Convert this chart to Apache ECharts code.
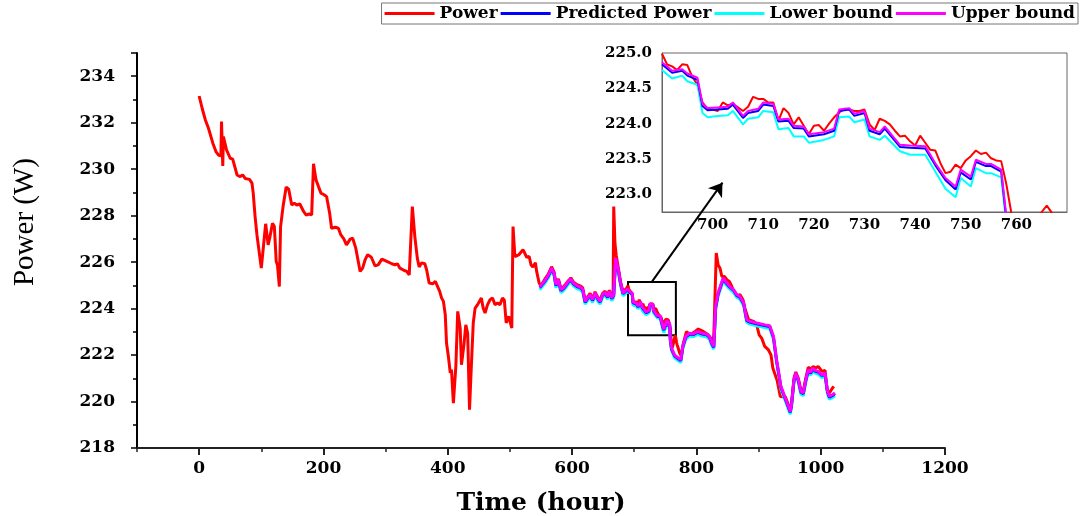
<!DOCTYPE html>
<html>
<head>
<meta charset="utf-8">
<script src="https://cdn.jsdelivr.net/npm/echarts@6/dist/echarts.min.js"></script>
<style>
  html, body { margin: 0; padding: 0; background: #fff; }
  #chart { width: 1080px; height: 516px; }
</style>
</head>
<body>
<div id="chart"></div>
<script>
// measured power, hour / W
const powerBefore = [
  [0, 233.15], [5, 232.60], [10, 232.12], [15, 231.76], [22, 231.12], [27, 230.76], [31, 230.61], [35, 230.57], [36, 232.05], [38, 230.14],
  [39, 231.40], [44, 230.83], [50, 230.47], [54, 230.43], [61, 229.75], [66, 229.68], [70, 229.75], [74, 229.60], [81, 229.56], [85, 229.40],
  [87, 228.97], [90, 227.96], [93, 227.17], [96, 227.10], [100, 225.74], [102, 225.70], [107, 227.65], [111, 226.74], [114, 227.10], [118, 227.67],
  [121, 227.53], [124, 226.03], [126, 225.88], [129, 224.95], [131, 227.53], [135, 228.39], [140, 229.23], [144, 229.14], [149, 228.46], [153, 228.54],
  [157, 228.46], [162, 228.50], [168, 228.18], [172, 228.03], [177, 228.07], [181, 228.03], [184, 230.23], [188, 229.54], [192, 229.25], [196, 228.97],
  [201, 228.90], [205, 228.82], [210, 228.10], [213, 227.46], [219, 227.50], [224, 227.46], [228, 227.17], [233, 226.99], [237, 226.74], [243, 226.99],
  [247, 227.03], [252, 226.60], [259, 225.60], [263, 225.74], [267, 226.10], [271, 226.32], [277, 226.21], [283, 225.84], [288, 225.88], [294, 226.13],
  [302, 226.03], [310, 225.93], [315, 225.88], [319, 225.93], [323, 225.74], [330, 225.64], [334, 225.60], [338, 225.45], [341, 225.50], [343, 228.39],
  [347, 227.10], [351, 226.17], [354, 225.79], [358, 225.97], [363, 225.93], [366, 225.67], [370, 225.10], [376, 225.07], [380, 225.17], [383, 225.10],
  [387, 224.74], [390, 224.46], [393, 224.31], [396, 223.73], [398, 222.52], [401, 221.94], [404, 221.23], [406, 221.37], [409, 219.93], [413, 221.51],
  [416, 223.88], [420, 223.16], [422, 221.58], [426, 222.44], [429, 223.30], [432, 222.94], [435, 219.65], [437, 220.94], [441, 223.38], [444, 224.02],
  [448, 224.17], [451, 224.21], [454, 224.46], [457, 224.02], [460, 223.81], [464, 224.17], [468, 224.38], [472, 224.46], [476, 224.17], [480, 224.24],
  [484, 224.17], [488, 224.46], [491, 224.36], [494, 223.38], [498, 223.67], [500, 223.73], [503, 223.16], [505, 227.53], [508, 226.24], [514, 226.31],
  [521, 226.53], [524, 226.38], [527, 226.21], [531, 226.24], [534, 225.88], [537, 225.79], [541, 225.97], [543, 225.60], [547, 225.10], [550, 224.98],
  [557, 225.30], [562, 225.50], [567, 225.80], [571, 225.58], [574, 225.07], [578, 225.28], [582, 224.86], [586, 224.93], [590, 225.06], [594, 225.20],
  [598, 225.32], [602, 225.15], [608, 225.03], [613, 224.98], [617, 224.90], [621, 224.36], [625, 224.50], [629, 224.65], [633, 224.43], [637, 224.72],
  [641, 224.50], [645, 224.36], [649, 224.65], [653, 224.75], [657, 224.57], [660, 224.79], [664, 224.50], [666, 224.60], [667, 228.39], [669, 226.80],
  [671, 226.30], [675, 225.65], [678, 225.15], [682, 224.72], [685, 224.78], [688, 224.88]
];
const powerInset = [
  [690, 224.99], [691, 224.84], [692, 224.81], [693, 224.76], [694, 224.84], [695, 224.83], [696, 224.66], [697, 224.55], [698, 224.30], [699, 224.21],
  [700, 224.20], [701, 224.18], [702, 224.30], [703, 224.26], [704, 224.28], [705, 224.23], [706, 224.18], [707, 224.24], [708, 224.38], [709, 224.35],
  [710, 224.35], [711, 224.30], [712, 224.30], [713, 224.04], [714, 224.22], [715, 224.15], [716, 223.99], [717, 224.09], [718, 223.97], [719, 223.85],
  [720, 223.97], [721, 223.98], [722, 223.90], [723, 224.00], [724, 224.09], [725, 224.16], [726, 224.21], [727, 224.20], [728, 224.18], [729, 224.18],
  [730, 224.20], [731, 223.99], [732, 223.91], [733, 224.07], [734, 224.04], [735, 223.99], [736, 223.90], [737, 223.82], [738, 223.83], [739, 223.75],
  [740, 223.69], [741, 223.83], [742, 223.73], [743, 223.63], [744, 223.62], [745, 223.44], [746, 223.30], [747, 223.32], [748, 223.42], [749, 223.37],
  [750, 223.48], [751, 223.54], [752, 223.62], [753, 223.57], [754, 223.59], [755, 223.51], [756, 223.48], [757, 223.47], [758, 223.15], [759, 222.74],
  [760, 222.45], [761, 222.30], [762, 222.35], [763, 222.50], [764, 222.62], [765, 222.75], [766, 222.84], [767, 222.74], [768, 222.55], [769, 222.45],
  [770, 222.40]
];
const powerAfter = [
  [773, 222.10], [776, 221.95], [779, 222.50], [784, 223.01], [790, 222.87], [798, 223.02], [803, 223.12], [811, 223.02], [819, 222.87], [825, 222.66],
  [828, 222.80], [832, 226.39], [835, 225.88], [838, 225.74], [841, 225.38], [845, 225.38], [849, 225.24], [853, 225.17], [857, 224.95], [861, 224.67],
  [865, 224.52], [870, 224.60], [875, 224.38], [878, 224.02], [884, 223.52], [892, 223.45], [897, 223.30], [901, 222.87], [905, 222.73], [910, 222.37],
  [916, 222.22], [920, 222.01], [923, 221.44], [926, 221.51], [930, 220.90], [935, 220.22], [943, 220.20], [946, 220.00], [951, 219.62], [953, 219.90],
  [957, 221.00], [960, 221.27], [964, 221.00], [968, 220.50], [972, 220.45], [976, 221.00], [980, 221.47], [984, 221.40], [988, 221.50], [992, 221.45],
  [996, 221.51], [1002, 221.30], [1007, 221.34], [1010, 220.51], [1014, 220.37], [1018, 220.54], [1021, 220.65]
];

// prediction with bounds
const predHoursBefore = [548, 551, 557, 562, 567, 571, 574, 578, 582, 586, 590, 594, 598, 602, 608, 613, 617, 621, 625, 629,
  633, 637, 641, 645, 649, 653, 657, 660, 664, 667, 670, 675, 678, 682, 685, 689];
const upperBefore = [224.93, 224.95, 225.24, 225.45, 225.74, 225.53, 225.02, 225.24, 224.81, 224.88, 225.02, 225.17, 225.27, 225.10, 224.98, 224.93, 224.84, 224.31, 224.46, 224.60,
  224.38, 224.67, 224.46, 224.31, 224.60, 224.70, 224.52, 224.74, 224.46, 224.60, 226.17, 225.60, 225.10, 224.67, 224.74, 224.84];
const predictedBefore = [224.90, 224.92, 225.21, 225.42, 225.71, 225.50, 224.99, 225.21, 224.78, 224.85, 224.99, 225.14, 225.24, 225.07, 224.95, 224.90, 224.81, 224.28, 224.43, 224.57,
  224.35, 224.64, 224.43, 224.28, 224.57, 224.67, 224.49, 224.71, 224.43, 224.57, 226.12, 225.56, 225.07, 224.64, 224.71, 224.81];
const lowerBefore = [224.81, 224.83, 225.12, 225.33, 225.62, 225.41, 224.90, 225.12, 224.69, 224.76, 224.90, 225.05, 225.15, 224.98, 224.86, 224.81, 224.72, 224.19, 224.34, 224.48,
  224.26, 224.55, 224.34, 224.19, 224.48, 224.58, 224.40, 224.62, 224.34, 224.48, 226.02, 225.47, 224.98, 224.55, 224.62, 224.72];

const predHoursInset = [690, 692, 694, 695, 697, 698, 699, 701, 703, 704, 706, 707, 709, 710, 712, 713, 715, 716, 718, 719,
  722, 724, 725, 727, 728, 730, 731, 733, 734, 737, 739, 742, 744, 746, 748, 749, 751, 752, 754, 755, 757, 758, 760];
const upperInset = [224.87, 224.75, 224.77, 224.71, 224.65, 224.28, 224.22, 224.23, 224.24, 224.30, 224.11, 224.18, 224.21, 224.30, 224.28, 224.06, 224.07, 223.97, 223.96, 223.85,
  223.88, 223.93, 224.20, 224.22, 224.14, 224.18, 223.93, 223.88, 223.96, 223.70, 223.69, 223.68, 223.44, 223.23, 223.11, 223.35, 223.25, 223.49, 223.43, 223.43, 223.35, 222.70, 222.30];
const predictedInset = [224.84, 224.72, 224.75, 224.68, 224.62, 224.25, 224.19, 224.20, 224.21, 224.27, 224.08, 224.15, 224.18, 224.27, 224.25, 224.03, 224.04, 223.94, 223.93, 223.82,
  223.85, 223.90, 224.18, 224.20, 224.11, 224.15, 223.90, 223.85, 223.93, 223.67, 223.66, 223.65, 223.41, 223.20, 223.07, 223.31, 223.21, 223.46, 223.40, 223.40, 223.32, 222.66, 222.26];
const lowerInset = [224.76, 224.64, 224.68, 224.60, 224.55, 224.15, 224.09, 224.11, 224.12, 224.18, 223.99, 224.07, 224.09, 224.18, 224.16, 223.92, 223.94, 223.82, 223.82, 223.73,
  223.77, 223.82, 224.09, 224.10, 224.02, 224.06, 223.82, 223.77, 223.83, 223.61, 223.56, 223.56, 223.32, 223.08, 222.96, 223.23, 223.11, 223.37, 223.30, 223.30, 223.24, 222.60, 222.20];

const predHoursAfter = [765, 771, 775, 778, 783, 789, 795, 802, 809, 816, 821, 825, 828, 831, 835, 843, 849, 854, 860, 865,
  870, 876, 881, 886, 897, 910, 918, 924, 929, 936, 943, 946, 951, 953, 957, 960, 964, 968, 972, 976,
  980, 984, 987, 991, 996, 1002, 1007, 1011, 1014, 1019, 1023];
const upperAfter = [222.00, 221.87, 221.80, 222.38, 222.80, 222.94, 222.91, 223.01, 222.94, 222.91, 222.80, 222.51, 222.37, 224.09, 224.67, 225.31, 225.10, 224.95, 224.81, 224.60,
  224.52, 224.24, 223.52, 223.45, 223.38, 223.30, 223.26, 222.80, 221.80, 220.65, 220.15, 219.94, 219.57, 219.86, 220.94, 221.23, 220.94, 220.44, 220.37, 220.94,
  221.37, 221.25, 221.44, 221.34, 221.30, 221.15, 221.23, 220.44, 220.22, 220.29, 220.37];
const predictedAfter = [221.97, 221.84, 221.77, 222.35, 222.77, 222.91, 222.88, 222.98, 222.91, 222.88, 222.77, 222.48, 222.34, 224.04, 224.63, 225.27, 225.07, 224.92, 224.78, 224.57,
  224.49, 224.21, 223.49, 223.42, 223.35, 223.27, 223.23, 222.77, 221.77, 220.62, 220.12, 219.91, 219.54, 219.83, 220.90, 221.20, 220.91, 220.41, 220.34, 220.90,
  221.34, 221.22, 221.41, 221.31, 221.27, 221.12, 221.20, 220.41, 220.19, 220.26, 220.34];
const lowerAfter = [221.88, 221.75, 221.68, 222.26, 222.68, 222.82, 222.79, 222.89, 222.82, 222.79, 222.68, 222.39, 222.25, 223.95, 224.54, 225.18, 224.98, 224.83, 224.69, 224.48,
  224.40, 224.12, 223.40, 223.33, 223.26, 223.18, 223.14, 222.68, 221.68, 220.53, 220.03, 219.82, 219.45, 219.74, 220.81, 221.11, 220.82, 220.32, 220.25, 220.81,
  221.25, 221.13, 221.32, 221.22, 221.18, 221.03, 221.11, 220.32, 220.10, 220.17, 220.25];

// axes
const xTickLabels = [0, 200, 400, 600, 800, 1000, 1200];
const xMinorTicks = [-100, 100, 300, 500, 700, 900, 1100];
const yTickLabels = [218, 220, 222, 224, 226, 228, 230, 232, 234];
const insetXLabels = [700, 710, 720, 730, 740, 750, 760];

// zoom box and arrow (hour, W)
const zoomBox = [[690, 222.85], [767, 225.14]];
const arrowLine = [[728, 225.14], [842, 229.42]];

const zip = (hs, vs) => hs.map((h, i) => [h, vs[i]]);
const predHoursAll = predHoursBefore.concat(predHoursInset, predHoursAfter);

const serif = 'DejaVu Serif';
const tickFont = { fontFamily: serif, fontWeight: 'bold', fontSize: 17, color: '#000' };

const chart = echarts.init(document.getElementById('chart'), null, { renderer: 'canvas' });

function lineSeries(name, color, data, width, xi, extra) {
  return Object.assign({
    name, type: 'line', data, xAxisIndex: xi, yAxisIndex: xi === 0 ? 0 : 1,
    showSymbol: false, symbol: 'none', smooth: false,
    lineStyle: { color, width }, itemStyle: { color },
    emphasis: { disabled: true }, animation: false
  }, extra || {});
}

chart.setOption({
  backgroundColor: '#fff',
  animation: false,
  legend: {
    data: ['Power', 'Predicted Power', 'Lower bound', 'Upper bound'],
    right: 2, top: 3,
    icon: 'rect', itemWidth: 50, itemHeight: 3, itemGap: 3,
    borderColor: '#777', borderWidth: 1, padding: [2, 3, 2, 3],
    textStyle: { fontFamily: serif, fontWeight: 'bold', fontSize: 17, color: '#000' }
  },
  grid: [
    { left: 137, top: 53, right: 135, bottom: 68, show: false, outerBoundsMode: 'none' },
    { left: 662, top: 53, width: 405, height: 159, show: true, borderColor: '#666', borderWidth: 1, backgroundColor: 'transparent', outerBoundsMode: 'none' }
  ],
  xAxis: [
    {
      gridIndex: 0, type: 'value', min: -100, max: 1200, interval: 100,
      name: 'Time (hour)', nameLocation: 'middle', nameGap: 43,
      nameTextStyle: { fontFamily: serif, fontWeight: 'bold', fontSize: 25, color: '#000' },
      axisLine: { show: true, onZero: false, lineStyle: { color: '#222', width: 2 } },
      axisTick: { show: true, customValues: xTickLabels, length: 7, lineStyle: { color: '#222', width: 2 } },
      axisLabel: Object.assign({ customValues: xTickLabels, margin: 12, formatter: v => String(v) }, tickFont),
      splitLine: { show: false }
    },
    {
      gridIndex: 0, type: 'value', min: -100, max: 1200, interval: 100, position: 'bottom',
      axisLine: { show: false },
      axisTick: { show: true, customValues: xMinorTicks, length: 4, lineStyle: { color: '#222', width: 1.5 } },
      axisLabel: { show: false }, splitLine: { show: false }
    },
    {
      gridIndex: 1, type: 'value', min: 690, max: 770, interval: 10,
      axisLine: { show: true, onZero: false, lineStyle: { color: '#666', width: 1 } },
      axisTick: { show: false },
      axisLabel: Object.assign({ customValues: insetXLabels, margin: 6, formatter: v => String(v) }, tickFont, { fontSize: 15 }),
      splitLine: { show: false }
    }
  ],
  yAxis: [
    {
      gridIndex: 0, type: 'value', min: 218, max: 235, interval: 2,
      axisLine: { show: true, onZero: false, lineStyle: { color: '#000', width: 2 } },
      axisTick: { show: true, length: 6, lineStyle: { color: '#000', width: 1.5 } },
      minorTick: { show: true, splitNumber: 2, length: 4, lineStyle: { color: '#000', width: 1.5 } },
      axisLabel: Object.assign({ customValues: yTickLabels, margin: 22, formatter: v => String(v) }, tickFont),
      splitLine: { show: false }
    },
    {
      gridIndex: 1, type: 'value', min: 222.75, max: 225, interval: 0.25,
      axisLine: { show: true, onZero: false, lineStyle: { color: '#666', width: 1 } },
      axisTick: { show: false },
      axisLabel: Object.assign({
        margin: 10,
        formatter: v => Math.abs(v * 2 - Math.round(v * 2)) < 1e-6 ? v.toFixed(1) : ''
      }, tickFont, { fontSize: 15 }),
      splitLine: { show: false }
    }
  ],
  graphic: [{
    type: 'text', x: 25, y: 222, rotation: Math.PI / 2, silent: true,
    style: { text: 'Power (W)', font: '29px "Liberation Serif"', fill: '#000', align: 'center', verticalAlign: 'middle' }
  }],
  series: [
    lineSeries('Power', '#ff0000', powerBefore.concat(powerInset, powerAfter), 3, 0, {
      markArea: {
        silent: true, label: { show: false },
        itemStyle: { color: 'rgba(0,0,0,0)', borderColor: '#000', borderWidth: 2 },
        data: [[{ coord: zoomBox[0] }, { coord: zoomBox[1] }]]
      },
      markLine: {
        silent: true, symbol: ['none', 'arrow'], symbolSize: 13,
        label: { show: false },
        lineStyle: { color: '#000', width: 2, type: 'solid' },
        data: [[{ coord: arrowLine[0] }, { coord: arrowLine[1] }]]
      }
    }),
    lineSeries('Lower bound', '#00ffff', zip(predHoursAll, lowerBefore.concat(lowerInset, lowerAfter)), 3, 0),
    lineSeries('Predicted Power', '#0000ff', zip(predHoursAll, predictedBefore.concat(predictedInset, predictedAfter)), 3, 0),
    lineSeries('Upper bound', '#ff00ff', zip(predHoursAll, upperBefore.concat(upperInset, upperAfter)), 3, 0),

    lineSeries('Power', '#ff0000', powerInset, 2, 2),
    lineSeries('Lower bound', '#00ffff', zip(predHoursInset, lowerInset), 2, 2),
    lineSeries('Predicted Power', '#0000ff', zip(predHoursInset, predictedInset), 2, 2),
    lineSeries('Upper bound', '#ff00ff', zip(predHoursInset, upperInset), 2, 2)
  ]
});
</script>
</body>
</html>
